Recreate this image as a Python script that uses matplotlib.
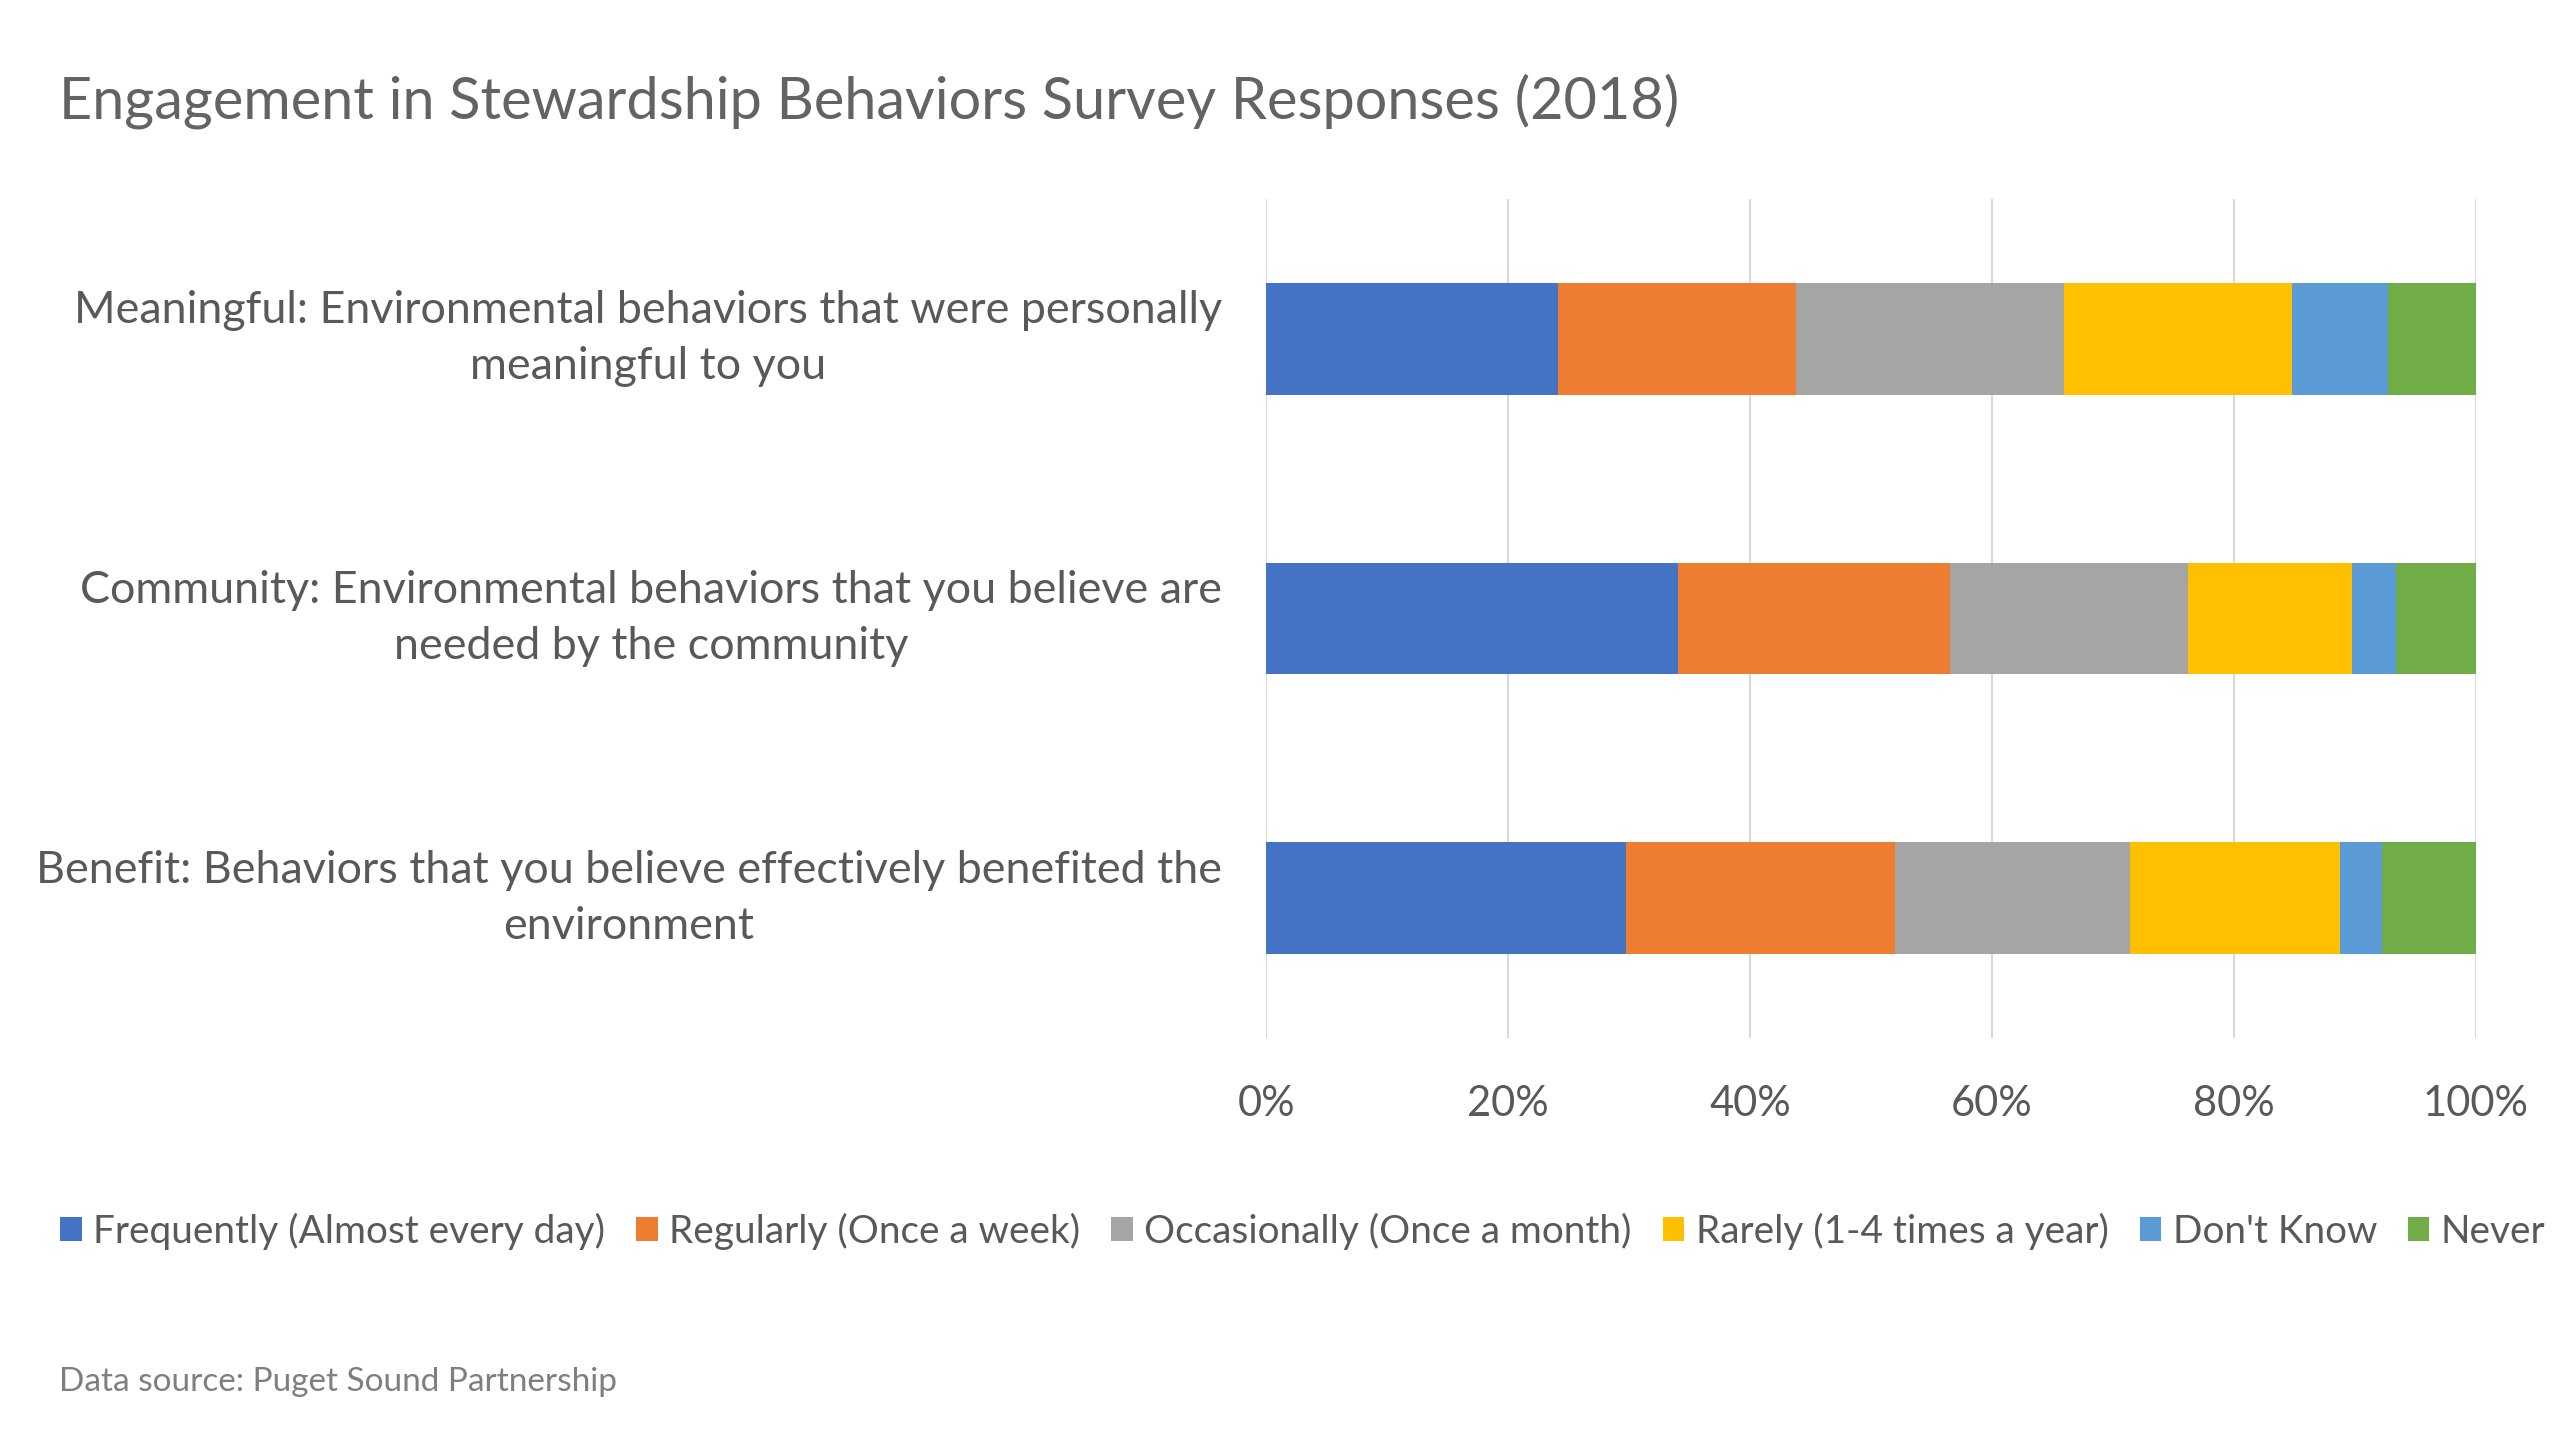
import matplotlib.pyplot as plt
import numpy as np

plt.rcParams['font.family'] = ['Lato', 'DejaVu Sans']

title = "Engagement in Stewardship Behaviors Survey Responses (2018)"
categories = [
    "Meaningful: Environmental behaviors that were personally\nmeaningful to you",
    "Community: Environmental behaviors that you believe are\nneeded by the community",
    "Benefit: Behaviors that you believe effectively benefited the\nenvironment",
]
series_names = [
    "Frequently (Almost every day)",
    "Regularly (Once a week)",
    "Occasionally (Once a month)",
    "Rarely (1-4 times a year)",
    "Don't Know",
    "Never",
]
# shares (%) per category, in the order of categories above
frequently = [24.1, 34.0, 29.7]
regularly = [19.7, 22.5, 22.3]
occasionally = [22.2, 19.7, 19.4]
rarely = [18.8, 13.6, 17.4]
dont_know = [8.0, 3.6, 3.5]
never = [7.2, 6.6, 7.7]
x_ticks = [0, 20, 40, 60, 80, 100]
source = "Data source: Puget Sound Partnership"

colors = ["#4472C4", "#ED7D31", "#A5A5A5", "#FFC000", "#5B9BD5", "#70AD47"]
text_col = "#595959"

fig = plt.figure(figsize=(25.6, 14.4), dpi=100)
ax = fig.add_axes([0.4947, 0.2792, 0.4723, 0.5826])

values = [frequently, regularly, occasionally, rarely, dont_know, never]
y = np.arange(len(categories))
left = np.zeros(len(categories))
for name, vals, c in zip(series_names, values, colors):
    ax.barh(y, vals, left=left, height=0.4, color=c, label=name, zorder=3)
    left += np.array(vals)

ax.set_ylim(2.5, -0.5)
ax.set_xlim(0, 100)
ax.set_xticks(x_ticks)
ax.set_xticklabels([f"{t}%" for t in x_ticks])
ax.set_yticks(y)
ax.set_yticklabels(categories, multialignment='center', linespacing=1.45, va='center')
ax.tick_params(axis='x', length=0, labelsize=30, labelcolor=text_col, pad=34)
ax.tick_params(axis='y', length=0, labelsize=32.3, labelcolor=text_col, pad=32)
ax.grid(axis='x', color="#D9D9D9", linewidth=1.5, zorder=0)
for s in ax.spines.values():
    s.set_visible(False)

fig.text(0.023, 0.930, title, fontsize=41.5, color="#636363",
         va='center', ha='left')

handles, labels = ax.get_legend_handles_labels()
fig.legend(handles, labels, loc='center left', bbox_to_anchor=(0.01, 0.145),
           ncol=6, frameon=False, fontsize=27.9, labelcolor=text_col,
           handlelength=0.55, handleheight=0.55, handletextpad=0.3,
           columnspacing=0.8)

fig.text(0.023, 0.040, source, fontsize=24, color="#7F7F7F", va='center', ha='left')

fig.savefig("out.png", dpi=100, facecolor='white')
